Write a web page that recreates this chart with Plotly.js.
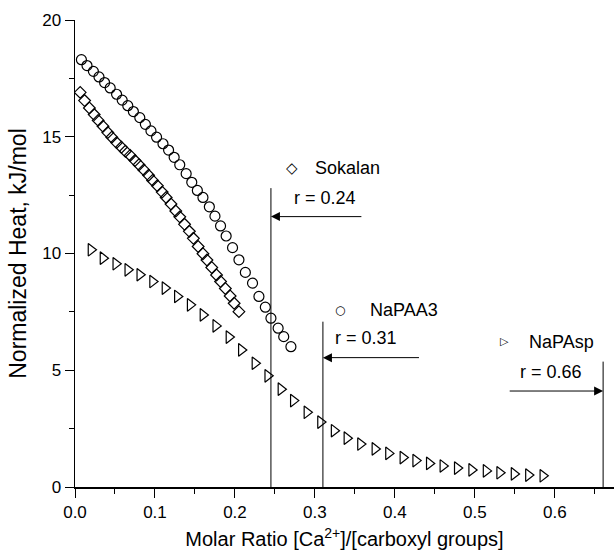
<!DOCTYPE html>
<html>
<head>
<meta charset="utf-8">
<script src="https://cdn.plot.ly/plotly-3.0.1.min.js"></script>
<style>html,body{margin:0;padding:0;background:#fff;}#chart{width:614px;height:555px;}</style>
</head>
<body>
<div id="chart"></div>
<script>
// Sokalan (diamonds)
const sokalanX = [0.0065,0.012,0.018,0.024,0.029,0.035,0.041,0.046,0.052,0.058,0.063,0.069,0.075,0.080,0.086,0.092,0.097,0.103,0.109,0.114,0.120,0.126,0.131,0.137,0.143,0.148,0.154,0.160,0.165,0.171,0.177,0.182,0.188,0.194,0.199,0.205];
const sokalanY = [16.90,16.55,16.23,15.95,15.70,15.45,15.18,14.98,14.75,14.55,14.38,14.20,13.98,13.80,13.58,13.35,13.13,12.90,12.63,12.40,12.12,11.82,11.57,11.25,10.95,10.65,10.30,9.99,9.72,9.40,9.08,8.80,8.50,8.18,7.87,7.51];
// NaPAA3 (circles)
const napaa3X = [0.008,0.015,0.023,0.030,0.037,0.044,0.052,0.059,0.066,0.073,0.081,0.088,0.095,0.102,0.110,0.117,0.124,0.131,0.139,0.146,0.153,0.160,0.168,0.175,0.182,0.189,0.197,0.205,0.213,0.222,0.230,0.238,0.245,0.254,0.261,0.270];
const napaa3Y = [18.30,18.05,17.80,17.56,17.32,17.09,16.82,16.57,16.33,16.08,15.82,15.53,15.25,14.98,14.70,14.43,14.12,13.80,13.42,13.05,12.70,12.40,12.00,11.60,11.18,10.75,10.25,9.73,9.19,8.73,8.16,7.70,7.23,6.80,6.44,6.01];
// NaPAsp (triangles)
const napaspX = [0.020,0.035,0.051,0.066,0.081,0.097,0.1125,0.128,0.144,0.160,0.176,0.1925,0.208,0.225,0.241,0.2575,0.273,0.290,0.307,0.324,0.340,0.357,0.375,0.392,0.410,0.426,0.443,0.460,0.478,0.496,0.514,0.531,0.549,0.567,0.585];
const napaspY = [10.16,9.80,9.56,9.30,9.09,8.80,8.52,8.16,7.80,7.37,6.90,6.42,5.87,5.30,4.76,4.19,3.70,3.20,2.78,2.41,2.09,1.84,1.63,1.44,1.26,1.13,1.01,0.90,0.81,0.73,0.69,0.61,0.56,0.51,0.48];

// end-point ratios
const rNames = ['Sokalan','NaPAA3','NaPAsp'];
const rLabels = ['r = 0.24','r = 0.31','r = 0.66'];
const rX = [0.245, 0.31, 0.6604];
const rLineTop = [12.8, 7.08, 5.37];
const rArrowY = [11.58, 5.54, 4.11];
const rArrowFrom = [0.36, 0.432, 0.5417];
const rSymbols = ['\u25C7','\u25CB','\u25B7'];
const rSymbolSize = [15, 12, 11];
const rSymX = [0.2709, 0.331, 0.5375];
const rSymY = [13.65, 7.58, 6.22];
const rNameX = [0.2975, 0.366, 0.5646];
const rTextX = [0.2709, 0.3225, 0.554];
const rTextY = [12.38, 6.37, 4.94];

const FONT = 'Liberation Sans, Arial, sans-serif';
const mk = (sym, size) => ({symbol: sym, size: size, color: 'black', line: {width: 1.2, color: 'black'}});

const traces = [
  {x: sokalanX, y: sokalanY, mode: 'markers', name: 'Sokalan', marker: mk('diamond-open', 9)},
  {x: napaa3X, y: napaa3Y, mode: 'markers', name: 'NaPAA3', marker: mk('circle-open', 10)},
  {x: napaspX, y: napaspY, mode: 'markers', name: 'NaPAsp', marker: mk('triangle-right-open', 11)}
];

const shapes = [];
const annotations = [];
for (let i = 0; i < 3; i++) {
  shapes.push({type: 'line', xref: 'x', yref: 'y', x0: rX[i], x1: rX[i], y0: 0, y1: rLineTop[i], line: {color: 'black', width: 1}});
  annotations.push({xref: 'x', yref: 'y', axref: 'x', ayref: 'y', x: rX[i], y: rArrowY[i], ax: rArrowFrom[i], ay: rArrowY[i], text: '', showarrow: true, arrowhead: 2, arrowsize: 1.8, arrowwidth: 1, arrowcolor: 'black'});
  annotations.push({xref: 'x', yref: 'y', x: rSymX[i], y: rSymY[i], text: rSymbols[i], showarrow: false, xanchor: 'center', yanchor: 'middle', font: {family: 'DejaVu Sans', size: rSymbolSize[i], color: 'black'}});
  annotations.push({xref: 'x', yref: 'y', x: rNameX[i], y: rSymY[i], text: rNames[i], showarrow: false, xanchor: 'left', yanchor: 'middle', font: {family: FONT, size: 18, color: 'black'}});
  annotations.push({xref: 'x', yref: 'y', x: rTextX[i], y: rTextY[i], text: rLabels[i], showarrow: false, xanchor: 'left', yanchor: 'middle', font: {family: FONT, size: 18, color: 'black'}});
}

const layout = {
  width: 614, height: 555,
  margin: {l: 75, r: 0, t: 20, b: 68},
  paper_bgcolor: 'white', plot_bgcolor: 'white',
  showlegend: false,
  font: {family: FONT, color: 'black'},
  xaxis: {
    range: [0, 0.674], dtick: 0.1, tick0: 0, tickformat: '.1f',
    ticks: 'outside', ticklen: 9, tickwidth: 1, tickcolor: 'black',
    minor: {dtick: 0.05, ticks: 'outside', ticklen: 5, tickcolor: 'black', showgrid: false},
    showline: true, linecolor: 'black', linewidth: 1.5, showgrid: false, zeroline: false,
    tickfont: {family: FONT, size: 17, color: 'black'},
    title: {text: 'Molar Ratio [Ca<sup>2+</sup>]/[carboxyl groups]', font: {family: FONT, size: 20, color: 'black'}, standoff: 11}
  },
  yaxis: {
    range: [0, 20], dtick: 5, tick0: 0,
    ticks: 'outside', ticklen: 9, tickwidth: 1, tickcolor: 'black',
    minor: {dtick: 2.5, ticks: 'outside', ticklen: 5, tickcolor: 'black', showgrid: false},
    showline: true, linecolor: 'black', linewidth: 1.5, showgrid: false, zeroline: false,
    tickfont: {family: FONT, size: 17, color: 'black'},
    title: {text: 'Normalized Heat, kJ/mol', font: {family: FONT, size: 23, color: 'black'}, standoff: 9}
  },
  shapes: shapes,
  annotations: annotations
};

Plotly.newPlot('chart', traces, layout, {staticPlot: true, displayModeBar: false});
</script>
</body>
</html>
